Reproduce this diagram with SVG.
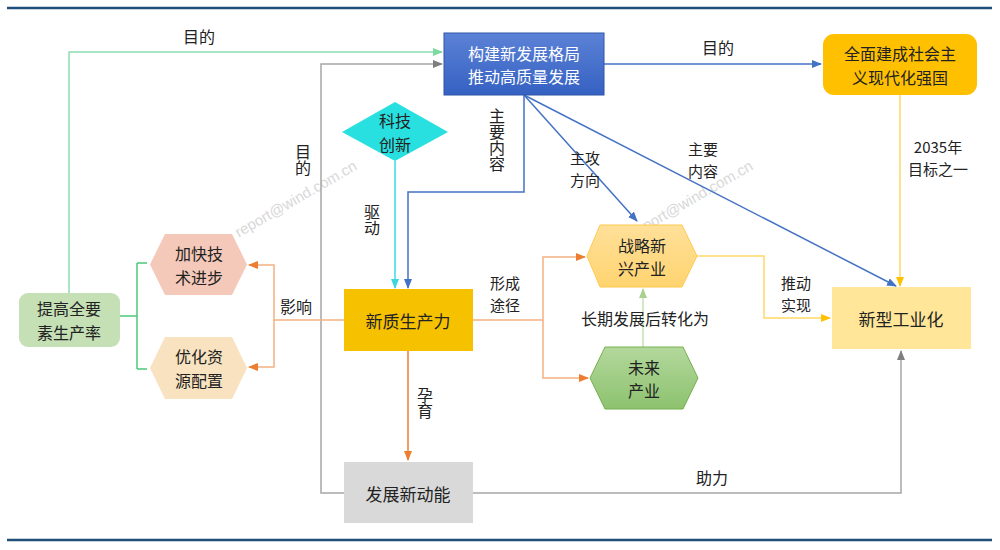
<svg xmlns="http://www.w3.org/2000/svg" width="1000" height="550" viewBox="0 0 1000 550">
<style>
text{font-family:"Noto Sans CJK SC","Liberation Sans",sans-serif;fill:#222;dominant-baseline:central;text-anchor:middle}
.n{font-size:16px}
.b{font-size:17px}
.l{font-size:15px}
.s{font-size:16px}
.v{font-size:16px;writing-mode:vertical-rl}
.w{fill:#fff}
.c{fill:none;stroke-width:1.5}
.wm{font-family:"Liberation Sans",sans-serif;font-size:15px;fill:#d8d8d8;text-anchor:start}
</style>
<defs>
<linearGradient id="gb" x1="0" y1="0" x2="0" y2="1"><stop offset="0" stop-color="#5C82D6"/><stop offset="1" stop-color="#3561C2"/></linearGradient>
<linearGradient id="gy" x1="0" y1="0" x2="0" y2="1"><stop offset="0" stop-color="#FFE09A"/><stop offset="1" stop-color="#FFD470"/></linearGradient>
<linearGradient id="gg" x1="0" y1="0" x2="0" y2="1"><stop offset="0" stop-color="#B3D89C"/><stop offset="1" stop-color="#8DC26F"/></linearGradient>
<marker id="aB" markerWidth="10" markerHeight="8" refX="9" refY="4" orient="auto" markerUnits="userSpaceOnUse"><path d="M0,0L10,4L0,8z" fill="#4472C4"/></marker>
<marker id="aG" markerWidth="10" markerHeight="8" refX="9" refY="4" orient="auto" markerUnits="userSpaceOnUse"><path d="M0,0L10,4L0,8z" fill="#7F7F7F"/></marker>
<marker id="aL" markerWidth="10" markerHeight="8" refX="9" refY="4" orient="auto" markerUnits="userSpaceOnUse"><path d="M0,0L10,4L0,8z" fill="#7DD9A0"/></marker>
<marker id="aC" markerWidth="10" markerHeight="8" refX="9" refY="4" orient="auto" markerUnits="userSpaceOnUse"><path d="M0,0L10,4L0,8z" fill="#3ED8DC"/></marker>
<marker id="aO" markerWidth="10" markerHeight="8" refX="9" refY="4" orient="auto" markerUnits="userSpaceOnUse"><path d="M0,0L10,4L0,8z" fill="#ED7D31"/></marker>
<marker id="aY" markerWidth="10" markerHeight="8" refX="9" refY="4" orient="auto" markerUnits="userSpaceOnUse"><path d="M0,0L10,4L0,8z" fill="#FFC000"/></marker>
<marker id="aV" markerWidth="10" markerHeight="8" refX="9" refY="4" orient="auto" markerUnits="userSpaceOnUse"><path d="M0,0L10,4L0,8z" fill="#A9D18E"/></marker>
</defs>
<rect width="1000" height="550" fill="#fff"/>
<line x1="7" y1="8" x2="992" y2="8" stroke="#1F4E79" stroke-width="2.5"/>
<line x1="7" y1="540" x2="992" y2="540" stroke="#1F4E79" stroke-width="2.5"/>
<text class="wm" transform="translate(236,233) rotate(-30)">report@wind.com.cn</text>
<text class="wm" transform="translate(632,233) rotate(-30)">report@wind.com.cn</text>
<g id="connectors">
<path class="c" d="M69,293V52H442" stroke="#8EDDB0" marker-end="url(#aL)"/>
<path class="c" d="M344,493H321V64H442" stroke="#A6A6A6" marker-end="url(#aG)"/>
<path class="c" d="M473,493H901V351" stroke="#A6A6A6" marker-end="url(#aG)"/>
<path class="c" d="M604,64H821" stroke="#4472C4" marker-end="url(#aB)"/>
<path class="c" d="M524,95V192H408V288" stroke="#4472C4" marker-end="url(#aB)"/>
<path class="c" d="M524,95L637,221" stroke="#4472C4" marker-end="url(#aB)"/>
<path class="c" d="M524,95L896,286" stroke="#4472C4" marker-end="url(#aB)"/>
<path class="c" d="M395,161V288" stroke="#3ED8DC" marker-end="url(#aC)"/>
<path class="c" d="M900,95V286" stroke="#FFD966" marker-end="url(#aY)"/>
<path class="c" d="M408,351V460" stroke="#ED7D31" marker-end="url(#aO)"/>
<path class="c" d="M344,320H274V265H249" stroke="#F4B183" marker-end="url(#aO)"/>
<path class="c" d="M274,320V367H249" stroke="#F4B183" marker-end="url(#aO)"/>
<path class="c" d="M473,320H543V257H585" stroke="#F4B183" marker-end="url(#aO)"/>
<path class="c" d="M543,320V378H588" stroke="#F4B183" marker-end="url(#aO)"/>
<path class="c" d="M643,347V289" stroke="#C5E0B4" marker-end="url(#aV)"/>
<path class="c" d="M697,256H764V318H830" stroke="#FFD966" marker-end="url(#aY)"/>
<path class="c" d="M120,316H131M137,263V369M131,316H137M137,263H147M137,369H147" stroke="#4CC97A"/>
<text class="s" x="199" y="36">目的</text>
<text class="s" x="718" y="47">目的</text>
<text class="v" x="303" y="160">目的</text>
<text class="v" x="497" y="140">主要内容</text>
<text class="l" x="585" y="157">主攻<tspan x="585" dy="22">方向</tspan></text>
<text class="l" x="703" y="148">主要<tspan x="703" dy="22">内容</tspan></text>
<text class="l" x="938" y="146">2035年<tspan x="938" dy="22">目标之一</tspan></text>
<text class="v" x="372" y="220">驱动</text>
<text class="s" x="296" y="306">影响</text>
<text class="l" x="505" y="282">形成<tspan x="505" dy="22">途径</tspan></text>
<text class="s" x="645" y="318">长期发展后转化为</text>
<text class="l" x="796" y="282">推动<tspan x="796" dy="22">实现</tspan></text>
<text class="v" x="425" y="403">孕育</text>
<text class="s" x="712" y="477">助力</text>
</g>
<g id="n-goal"><rect x="444" y="33" width="160" height="62" fill="url(#gb)" stroke="#2F55A8"/><text class="n w" x="524" y="52.5">构建新发展格局<tspan x="524" dy="23.5">推动高质量发展</tspan></text></g>
<g id="n-modern"><rect x="823" y="34" width="154" height="61" rx="11" fill="#FFC000"/><text class="n" x="900" y="53">全面建成社会主<tspan x="900" dy="23.5">义现代化强国</tspan></text></g>
<g id="n-tech"><polygon points="342,132 395,102 448,132 395,161" fill="#29E0E0"/><text class="n" x="395" y="120">科技<tspan x="395" dy="23.5">创新</tspan></text></g>
<g id="n-tfp"><rect x="19" y="293" width="101" height="54" rx="9" fill="#C5E0B4"/><text class="n" x="69" y="308">提高全要<tspan x="69" dy="23.5">素生产率</tspan></text></g>
<g id="n-techprog"><polygon points="150,264.5 165,234 232,234 247,264.5 232,295 165,295" fill="#F5C9B9"/><text class="n" x="199" y="253">加快技<tspan x="199" dy="23.5">术进步</tspan></text></g>
<g id="n-alloc"><polygon points="150,368 165,337 232,337 247,368 232,399 165,399" fill="#F8E2C0"/><text class="n" x="199" y="356">优化资<tspan x="199" dy="23.5">源配置</tspan></text></g>
<g id="n-npf"><rect x="344" y="289" width="129" height="62" fill="#F6C200"/><text class="b" x="408" y="320">新质生产力</text></g>
<g id="n-energy"><rect x="344" y="462" width="129" height="61" fill="#D9D9D9"/><text class="b" x="408" y="493">发展新动能</text></g>
<g id="n-strat"><polygon points="587,256 600,225 682,225 697,256 682,287 600,287" fill="url(#gy)" stroke="#FFC94D"/><text class="n" x="642" y="244.5">战略新<tspan x="642" dy="23.5">兴产业</tspan></text></g>
<g id="n-future"><polygon points="590,378 605,347 683,347 698,378 683,409 605,409" fill="url(#gg)" stroke="#76B04F"/><text class="n" x="644" y="366.5">未来<tspan x="644" dy="23.5">产业</tspan></text></g>
<g id="n-ind"><rect x="832" y="287" width="139" height="62" fill="#FFE699"/><text class="b" x="901" y="318">新型工业化</text></g>
</svg>
